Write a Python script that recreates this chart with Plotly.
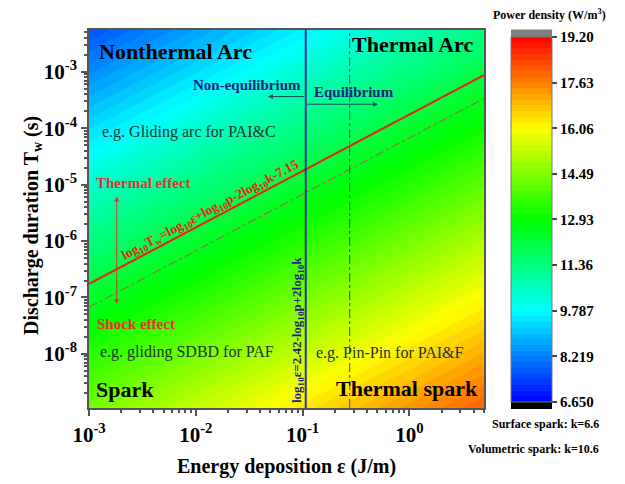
import numpy as np
import plotly.graph_objects as go

# ---------------- data ----------------
eps_corners = [1e-3, 5.0]            # energy deposition (J/m), axis extent
tw_corners = [1.1e-9, 5.5e-3]        # discharge duration (s), axis extent
power_corners = [[14.33, 18.03],     # log power density at (eps, tw) corners, bottom row
                 [7.63, 11.33]]      # top row
cbar_vals = [6.650, 8.219, 9.787, 11.36, 12.93, 14.49, 16.06, 17.63, 19.20]
cbar_text = ["6.650", "8.219", "9.787", "11.36", "12.93", "14.49", "16.06", "17.63", "19.20"]
x_tickvals = [1e-3, 1e-2, 1e-1, 1e0]
x_ticktext = ["10<sup>-3</sup>", "10<sup>-2</sup>", "10<sup>-1</sup>", "10<sup>0</sup>"]
y_tickvals = [1e-8, 1e-7, 1e-6, 1e-5, 1e-4, 1e-3]
y_ticktext = ["10<sup>-8</sup>", "10<sup>-7</sup>", "10<sup>-6</sup>", "10<sup>-5</sup>",
              "10<sup>-4</sup>", "10<sup>-3</sup>"]
k_surface = 6.6
k_volumetric = 10.6
p_gas = 1.07e5

# ---------------- geometry helpers ----------------
W, H = 625, 484
L, R, T, B = 89, 141, 30, 76
PW, PH = W - L - R, H - T - B

def px(x):
    return (x - L) / PW

def py(y):
    return (H - B - y) / PH

FONT = "Liberation Serif"

def tw_line(k, eps):
    return 10 ** (np.log10(eps) + np.log10(p_gas) - 2 * np.log10(k) - 7.15)

def eps_line(k):
    return 10 ** (2.42 - np.log10(p_gas) + 2 * np.log10(k))

colorscale = [[0.0, "rgb(0,0,255)"], [0.25, "rgb(0,255,255)"], [0.5, "rgb(0,255,0)"],
              [0.75, "rgb(255,255,0)"], [1.0, "rgb(255,0,0)"]]

fig = go.Figure()
nlev = 64
fig.add_trace(go.Contour(
    x=eps_corners, y=tw_corners, z=power_corners,
    colorscale=colorscale, zmin=cbar_vals[0], zmax=cbar_vals[-1],
    contours=dict(start=cbar_vals[0], end=cbar_vals[-1],
                  size=(cbar_vals[-1] - cbar_vals[0]) / nlev,
                  coloring="fill", showlines=False),
    line=dict(width=0),
    hoverinfo="skip",
    colorbar=dict(
        thickness=41, thicknessmode="pixels",
        len=365, lenmode="pixels",
        x=px(511), xanchor="left", xpad=0,
        y=py(219.5), yanchor="middle", ypad=0,
        outlinewidth=1, outlinecolor="#777",
        tickvals=cbar_vals, ticktext=cbar_text,
        ticks="outside", ticklen=5, tickwidth=1.5, tickcolor="#444",
        tickfont=dict(family=FONT, size=15, color="black", weight="bold"),
    ),
))

eps_x = np.array(eps_corners)
# slanted lines
fig.add_trace(go.Scatter(x=eps_x, y=tw_line(k_surface, eps_x), mode="lines",
                         line=dict(color="#e8201c", width=2), showlegend=False, hoverinfo="skip"))
fig.add_trace(go.Scatter(x=eps_x, y=tw_line(k_volumetric, eps_x), mode="lines",
                         line=dict(color="#c84848", width=1, dash="dashdot"), showlegend=False, hoverinfo="skip"))
# vertical lines
e_s = eps_line(k_surface)
e_v = eps_line(k_volumetric)
fig.add_trace(go.Scatter(x=[e_s, e_s], y=tw_corners, mode="lines",
                         line=dict(color="#2b3590", width=2), showlegend=False, hoverinfo="skip"))
fig.add_trace(go.Scatter(x=[e_v, e_v], y=tw_corners, mode="lines",
                         line=dict(color="#3a4a7a", width=1, dash="dashdot"), showlegend=False, hoverinfo="skip"))

axis_common = dict(
    type="log", showgrid=False, zeroline=False,
    showline=True, linecolor="#555", linewidth=1.5, mirror=True,
    ticks="outside", ticklen=6, tickwidth=1.5, tickcolor="#555",
    tickfont=dict(family=FONT, size=21, color="black", weight="bold"),
    minor=dict(ticks="outside", ticklen=3, tickcolor="#555", dtick="D1", showgrid=False),
)
fig.update_xaxes(**axis_common, range=[np.log10(eps_corners[0]), np.log10(eps_corners[1])],
                 tickvals=x_tickvals, ticktext=x_ticktext, ticklabelstandoff=1)
fig.update_yaxes(**axis_common, range=[np.log10(tw_corners[0]), np.log10(tw_corners[1])],
                 tickvals=y_tickvals, ticktext=y_ticktext)

ann = []

def txt(text, x, y, size, color="black", bold=True, angle=0, xanchor="center"):
    ann.append(dict(text=text, x=px(x), y=py(y), xref="paper", yref="paper",
                    showarrow=False, xanchor=xanchor, yanchor="middle", textangle=angle,
                    font=dict(family=FONT, size=size, color=color,
                              weight="bold" if bold else "normal")))

txt("Energy deposition ε (J/m)", 286, 466, 20)
txt("Discharge duration T<sub>w</sub> (s)", 32, 226, 20, angle=-90)
txt("Nonthermal Arc", 175.5, 51, 22)
txt("Thermal Arc", 412.5, 45, 22)
txt("Spark", 124.5, 389, 22)
txt("Thermal spark", 406.5, 388, 22)
txt("Non-equilibrium", 246.5, 85, 15, color="#1a237e")
txt("Equilibrium", 353.5, 92, 15, color="#1a237e")
txt("e.g. Gliding arc for PAI&C", 189, 132, 16, color="#1e3434", bold=False)
txt("e.g. gliding SDBD for PAF", 186.5, 352, 16, color="#1e3434", bold=False)
txt("e.g. Pin-Pin for PAI&F", 390, 353, 16, color="#1e3434", bold=False)
txt("Thermal effect", 143, 183, 15, color="#e8302a")
txt("Shock effect", 135.5, 324, 15, color="#e8302a")
txt("log<sub>10</sub>T<sub>w</sub>=log<sub>10</sub>ε+log<sub>10</sub>p-2log<sub>10</sub>k-7.15",
    210, 210, 13.5, color="#e8201c", angle=-28)
txt("log<sub>10</sub>ε=2.42-log<sub>10</sub>p+2log<sub>10</sub>k", 297, 330, 13,
    color="#1a237e", angle=-90)
txt("Power density (W/m<sup>3</sup>)", 549, 15, 12)
txt("Surface spark: k=6.6", 601, 424, 12, xanchor="right")
txt("Volumetric spark: k=10.6", 601, 449, 12, xanchor="right")

# arrows (log coordinates on log axes)
le_s = np.log10(e_s)
def arrow(x_tip, y_tip, x_tail, y_tail, color, side="end"):
    ann.append(dict(x=x_tip, y=y_tip, ax=x_tail, ay=y_tail, xref="x", yref="y",
                    axref="x", ayref="y", text="", showarrow=True, arrowhead=2,
                    arrowsize=1, arrowwidth=1, arrowcolor=color, arrowside=side))

arrow(-1.325, -3.44, le_s, -3.44, "#2a4450")
arrow(-0.294, -3.575, le_s, -3.575, "#2a4450")
arrow(-2.74, -5.21, -2.74, -7.14, "#e0302a", side="end+start")

shapes = [
    dict(type="rect", xref="paper", yref="paper", x0=px(511), x1=px(552),
         y0=py(37), y1=py(29.5), fillcolor="#808080", line=dict(width=0)),
    dict(type="rect", xref="paper", yref="paper", x0=px(511), x1=px(552),
         y0=py(409), y1=py(402), fillcolor="#000000", line=dict(width=0)),
]

fig.update_layout(
    width=W, height=H, margin=dict(l=L, r=R, t=T, b=B, autoexpand=False),
    paper_bgcolor="white", plot_bgcolor="white",
    annotations=ann, shapes=shapes, showlegend=False,
    font=dict(family=FONT),
)

fig.write_html("out.html", config={"displayModeBar": False},
               post_script="document.body.style.margin='0';")
